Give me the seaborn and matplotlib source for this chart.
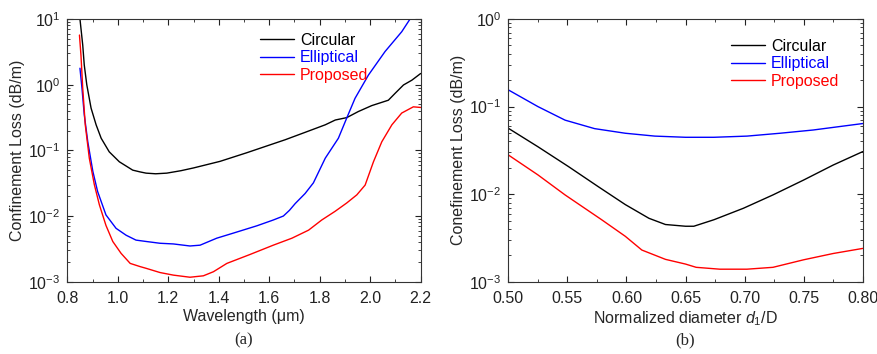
import numpy as np
import pandas as pd
import matplotlib
matplotlib.use("Agg")
import matplotlib.pyplot as plt
import seaborn as sns
from matplotlib.ticker import MultipleLocator, LogLocator, NullFormatter

# ---------- data (a): confinement loss vs wavelength ----------
wl_circ = [0.850, 0.861, 0.867, 0.877, 0.894, 0.914, 0.934, 0.966, 1.006, 1.059, 1.088, 1.112,
           1.15, 1.194, 1.25, 1.30, 1.405, 1.511, 1.616, 1.663, 1.742, 1.822, 1.862, 1.907,
           1.953, 2.006, 2.072, 2.099, 2.132, 2.165, 2.2]
cl_circ = [10.0, 4.0, 2.0, 1.0, 0.44, 0.245, 0.153, 0.095, 0.067, 0.050, 0.047, 0.045,
           0.044, 0.045, 0.049, 0.054, 0.068, 0.092, 0.126, 0.145, 0.188, 0.245, 0.29, 0.315,
           0.39, 0.48, 0.58, 0.74, 0.99, 1.17, 1.48]

wl_ell = [0.850, 0.858, 0.867, 0.881, 0.901, 0.920, 0.953, 0.993, 1.033, 1.072, 1.112, 1.167,
          1.22, 1.286, 1.326, 1.392, 1.458, 1.551, 1.616, 1.656, 1.68, 1.703, 1.742, 1.775,
          1.822, 1.874, 1.907, 1.940, 1.993, 2.059, 2.125, 2.158]
cl_ell = [1.78, 0.88, 0.35, 0.135, 0.048, 0.0236, 0.0104, 0.0065, 0.0051, 0.0043, 0.0041, 0.00385,
          0.00376, 0.0035, 0.0036, 0.0046, 0.0055, 0.0071, 0.0087, 0.0100, 0.0122, 0.0155, 0.022, 0.032,
          0.076, 0.153, 0.31, 0.62, 1.4, 3.2, 6.4, 10.0]

wl_prop = [0.848, 0.854, 0.861, 0.871, 0.887, 0.907, 0.927, 0.953, 0.980, 1.013, 1.049, 1.088,
           1.112, 1.167, 1.22, 1.286, 1.339, 1.379, 1.432, 1.524, 1.616, 1.69, 1.756, 1.808,
           1.861, 1.907, 1.947, 1.980, 2.013, 2.046, 2.086, 2.125, 2.171, 2.2]
cl_prop = [5.7, 2.8, 0.88, 0.245, 0.076, 0.030, 0.0148, 0.0072, 0.0041, 0.0027, 0.0019, 0.0017,
           0.0016, 0.00138, 0.00126, 0.00117, 0.00123, 0.00142, 0.0019, 0.0026, 0.0036, 0.0046, 0.0061, 0.0087,
           0.0118, 0.0158, 0.021, 0.0296, 0.067, 0.135, 0.245, 0.37, 0.46, 0.45]

# ---------- data (b): confinement loss vs normalized diameter ----------
d_circ = [0.50, 0.525, 0.551, 0.576, 0.599, 0.619, 0.633, 0.650, 0.657, 0.674, 0.699, 0.724, 0.750, 0.775, 0.80]
b_circ = [0.0565, 0.0348, 0.0206, 0.0122, 0.0076, 0.0053, 0.0045, 0.0043, 0.0043, 0.0051, 0.0069, 0.0098, 0.0145, 0.0215, 0.0306]
d_ell = [0.50, 0.525, 0.548, 0.573, 0.599, 0.624, 0.650, 0.674, 0.702, 0.730, 0.758, 0.80]
b_ell = [0.155, 0.10, 0.070, 0.056, 0.0496, 0.046, 0.0446, 0.0446, 0.046, 0.0496, 0.054, 0.064]
d_prop = [0.50, 0.525, 0.548, 0.579, 0.599, 0.613, 0.633, 0.650, 0.659, 0.679, 0.702, 0.724, 0.750, 0.775, 0.80]
b_prop = [0.028, 0.0166, 0.0098, 0.0051, 0.0033, 0.0023, 0.0018, 0.00159, 0.00146, 0.00139, 0.00139, 0.00146, 0.00178, 0.0021, 0.0024]

series = ["Circular", "Elliptical", "Proposed"]
colors = {"Circular": "#000000", "Elliptical": "#0000ff", "Proposed": "#ff0000"}
xticks_a = [0.8, 1.0, 1.2, 1.4, 1.6, 1.8, 2.0, 2.2]
xticks_b = [0.50, 0.55, 0.60, 0.65, 0.70, 0.75, 0.80]


def frame(xs, ys):
    parts = []
    for name, x, y in zip(series, xs, ys):
        parts.append(pd.DataFrame({"x": x, "y": y, "series": name}))
    return pd.concat(parts, ignore_index=True)


df_a = frame([wl_circ, wl_ell, wl_prop], [cl_circ, cl_ell, cl_prop])
df_b = frame([d_circ, d_ell, d_prop], [b_circ, b_ell, b_prop])

sns.set_style("ticks")
plt.rcParams["font.family"] = ["Liberation Sans", "DejaVu Sans"]
plt.rcParams["mathtext.fontset"] = "custom"
plt.rcParams["mathtext.rm"] = "Liberation Sans"
plt.rcParams["mathtext.it"] = "Liberation Sans:italic"

fig = plt.figure(figsize=(8.78, 3.54), dpi=100)
ax1 = fig.add_axes([0.0767, 0.2042, 0.4024, 0.7421])
ax2 = fig.add_axes([0.579, 0.2042, 0.4036, 0.7421])

FS = 11.5
for ax, df in ((ax1, df_a), (ax2, df_b)):
    sns.lineplot(data=df, x="x", y="y", hue="series", palette=colors,
                 hue_order=series, ax=ax, linewidth=1.0, sort=False,
                 estimator=None, legend=True)
    ax.set_yscale("log")
    for s in ax.spines.values():
        s.set_linewidth(0.8)
        s.set_color("#333333")
    ax.tick_params(which="both", direction="in", top=True, right=True,
                   labelsize=FS, colors="#222222")
    ax.tick_params(axis="x", which="major", pad=7)
    ax.tick_params(axis="y", which="major", pad=5)
    ax.tick_params(which="major", length=4, width=0.8)
    ax.tick_params(which="minor", length=2, width=0.6)
    ax.yaxis.set_major_locator(LogLocator(base=10, numticks=10))
    ax.yaxis.set_minor_locator(LogLocator(base=10, subs=np.arange(2, 10), numticks=20))
    ax.yaxis.set_minor_formatter(NullFormatter())

ax1.set_xlim(0.8, 2.2)
ax1.set_ylim(1e-3, 10)
ax1.set_xticks(xticks_a)
ax1.set_xticklabels([f"{v:.1f}" for v in xticks_a])
ax1.xaxis.set_minor_locator(MultipleLocator(0.1))
ax1.set_xlabel("Wavelength (\u03bcm)", fontsize=FS, labelpad=2)
ax1.set_ylabel("Confinement Loss (dB/m)", fontsize=FS, labelpad=2)

ax2.set_xlim(0.5, 0.8)
ax2.set_ylim(1e-3, 1)
ax2.set_xticks(xticks_b)
ax2.set_xticklabels([f"{v:.2f}" for v in xticks_b])
ax2.xaxis.set_minor_locator(MultipleLocator(0.025))
ax2.set_xlabel("Normalized diameter $d_1$/D", fontsize=FS, labelpad=2)
ax2.set_ylabel("Conefinement Loss (dB/m)", fontsize=FS, labelpad=2)

for ax, anchor in ((ax1, (0.528, 0.972)), (ax2, (0.611, 0.948))):
    leg = ax.legend(frameon=False, fontsize=FS, handlelength=2.1,
                    handletextpad=0.4, labelspacing=0.15, borderaxespad=0,
                    loc="upper left", bbox_to_anchor=anchor)
    for t, name in zip(leg.get_texts(), series):
        t.set_color(colors[name])

fig.text(0.2779, 0.028, "(a)", fontsize=12, family="Liberation Serif", ha="center")
fig.text(0.7808, 0.028, "(b)", fontsize=12, family="Liberation Serif", ha="center")

fig.savefig("out.png", dpi=100)
